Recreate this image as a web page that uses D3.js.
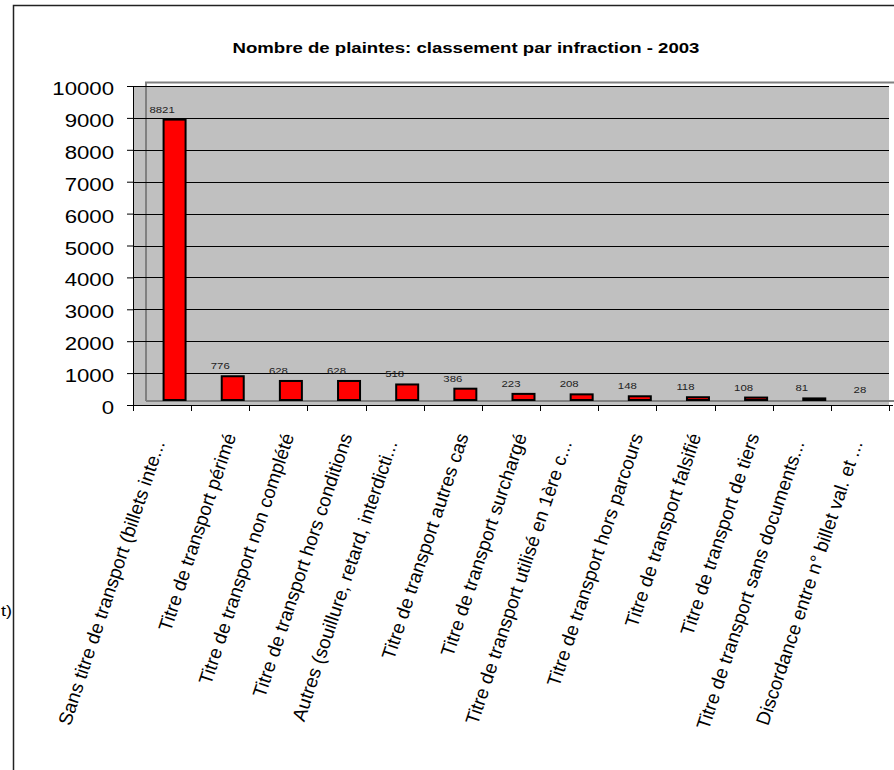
<!DOCTYPE html>
<html>
<head>
<meta charset="utf-8">
<script src="https://cdn.jsdelivr.net/npm/d3@7"></script>
<style>
  html, body { margin: 0; padding: 0; background: #fff; }
  svg { display: block; font-family: Arial, "Liberation Sans", sans-serif; }
</style>
</head>
<body>
<svg id="chart" width="894" height="770"></svg>
<script>
// Complaints per offence type, 2003
const categories = [
  "Sans titre de transport (billets inte...",
  "Titre de transport périmé",
  "Titre de transport non complété",
  "Titre de transport hors conditions",
  "Autres (souillure, retard, interdicti...",
  "Titre de transport autres cas",
  "Titre de transport surchargé",
  "Titre de transport utilisé en 1ère c...",
  "Titre de transport hors parcours",
  "Titre de transport falsifié",
  "Titre de transport de tiers",
  "Titre de transport sans documents...",
  "Discordance entre n° billet val. et ..."
];
const complaints = [8821, 776, 628, 628, 518, 386, 223, 208, 148, 118, 108, 81, 28];
const yTicks = [0, 1000, 2000, 3000, 4000, 5000, 6000, 7000, 8000, 9000, 10000];
const chartTitle = "Nombre de plaintes: classement par infraction - 2003";

const svg = d3.select("#chart");

// horizontal text in this chart is drawn a little wider than tall
const stretch = 1.2;

// plot area geometry
const plotLeft = 133, plotRight = 889, plotTop = 86, plotBottom = 405;
const depthX = 13, depthY = 4;   // offset of the back wall

const x = d3.scaleBand().domain(d3.range(categories.length)).range([plotLeft, plotRight]).padding(0);
const y = d3.scaleLinear().domain([0, 10000]).range([plotBottom, plotTop]);

// outer chart border
svg.append("rect")
  .attr("x", 13.5).attr("y", 5.5)
  .attr("width", 900).attr("height", 800)
  .attr("fill", "none").attr("stroke", "#222").attr("stroke-width", 1.5);

// stray text at the left edge
svg.append("text")
  .attr("transform", `translate(12,616) scale(${stretch},1)`)
  .attr("text-anchor", "end")
  .attr("font-size", 15).attr("fill", "#000")
  .text("t)");

// title
svg.append("text")
  .attr("transform", `translate(466,52.5) scale(${stretch},1)`)
  .attr("text-anchor", "middle")
  .attr("font-size", 15.5).attr("font-weight", "bold").attr("fill", "#000")
  .text(chartTitle);

// plot background
svg.append("rect")
  .attr("x", plotLeft).attr("y", plotTop)
  .attr("width", plotRight - plotLeft).attr("height", plotBottom - plotTop)
  .attr("fill", "#c0c0c0");

// back wall frame
const wall = svg.append("g").attr("stroke", "#808080").attr("stroke-width", 2).attr("fill", "none");
wall.append("path").attr("d",
  `M${plotLeft + depthX},${plotBottom - depthY} V${plotTop - depthY + 0.5} H894`);
wall.append("path").attr("d",
  `M${plotLeft + depthX},${plotBottom - depthY} H894`);

// gridlines
svg.append("g")
  .selectAll("line")
  .data(yTicks.filter(d => d > 0))
  .join("line")
  .attr("x1", plotLeft).attr("x2", plotRight)
  .attr("y1", d => Math.round(y(d)) + 0.5).attr("y2", d => Math.round(y(d)) + 0.5)
  .attr("stroke", "#000").attr("stroke-width", 1);

// bars, drawn on the back plane
const barBase = y(0) - depthY - 1;
svg.append("g")
  .selectAll("rect")
  .data(complaints)
  .join("rect")
  .attr("x", (d, i) => x(i) + x.bandwidth() / 2 + 1.5)
  .attr("width", 22)
  .attr("y", d => y(d) - depthY)
  .attr("height", d => Math.max(0, barBase - (y(d) - depthY)))
  .attr("fill", "#ff0000")
  .attr("stroke", "#000").attr("stroke-width", 2);

// value labels
svg.append("g")
  .selectAll("text")
  .data(complaints)
  .join("text")
  .attr("transform", (d, i) =>
    `translate(${x(i) + x.bandwidth() / 2},${y(d) - 11}) scale(${stretch},1)`)
  .attr("text-anchor", "middle")
  .attr("font-size", 9.5).attr("fill", "#222")
  .text(d => d);

// y axis
const yAxis = svg.append("g").attr("transform", `translate(${plotLeft},0)`)
  .call(d3.axisLeft(y).tickValues(yTicks).tickSize(6).tickFormat(d3.format("d")));
yAxis.select(".domain").attr("stroke", "#000").attr("d", `M0.5,${plotTop}V${plotBottom}`);
yAxis.selectAll(".tick line").attr("stroke", "#000");
yAxis.selectAll(".tick text")
  .attr("font-size", 18.5).attr("fill", "#000")
  .attr("font-family", "Arial, 'Liberation Sans', sans-serif")
  .attr("x", 0).attr("dy", 0)
  .attr("transform", `translate(-19,8.5) scale(${stretch},1)`);

// x axis
const xAxis = svg.append("g").attr("transform", `translate(0,${plotBottom})`);
xAxis.append("line")
  .attr("x1", plotLeft).attr("x2", 893).attr("y1", 0.5).attr("y2", 0.5)
  .attr("stroke", "#000");
xAxis.selectAll("line.tick")
  .data(d3.range(categories.length + 1))
  .join("line")
  .attr("class", "tick")
  .attr("x1", i => Math.round(plotLeft + i * x.step()) + 0.5)
  .attr("x2", i => Math.round(plotLeft + i * x.step()) + 0.5)
  .attr("y1", 0).attr("y2", 6)
  .attr("stroke", "#000");

// rotated category labels; truncated names sit lower, their dots on the line
const truncated = d => d.endsWith("...");
svg.append("g")
  .selectAll("text")
  .data(categories)
  .join("text")
  .attr("transform", (d, i) => {
    const cx = x(i) + x.bandwidth() / 2;
    return truncated(d)
      ? `translate(${cx + 3},443) rotate(-71.5)`
      : `translate(${cx + 16},436) rotate(-71.5)`;
  })
  .attr("text-anchor", "end")
  .attr("font-size", 19).attr("fill", "#000")
  .text(d => d);
</script>
</body>
</html>
